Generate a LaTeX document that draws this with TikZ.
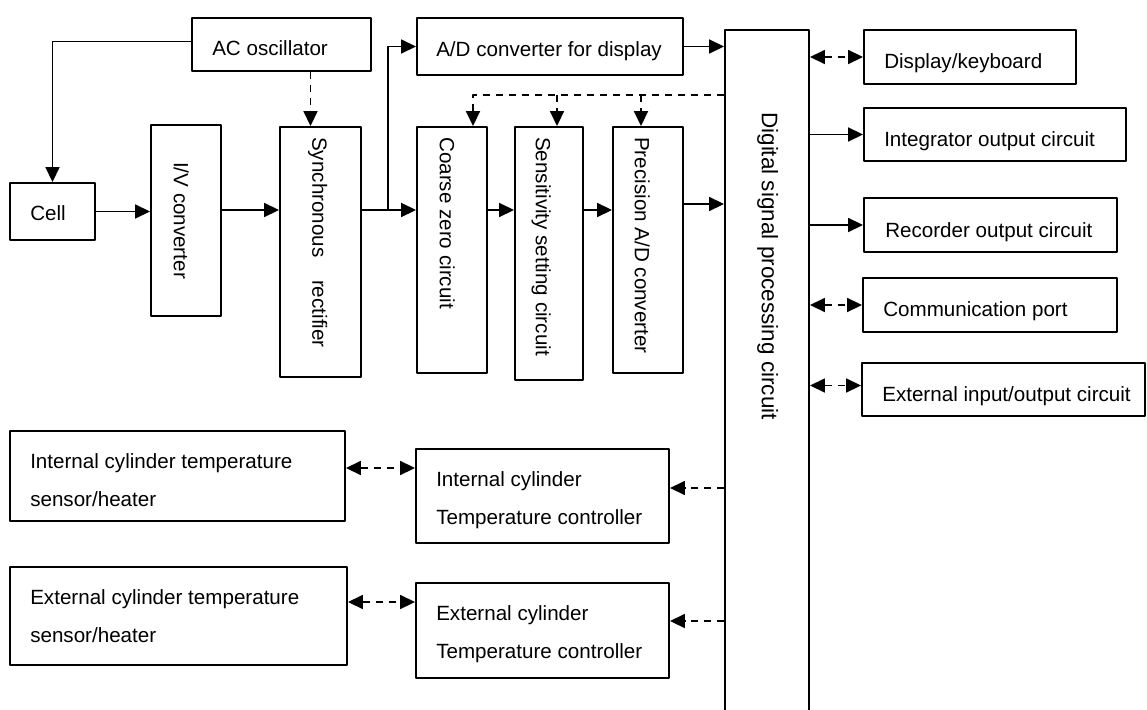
\documentclass[tikz,border=0pt]{standalone}
\usepackage{fontspec}
\setmainfont{Liberation Sans}
\usetikzlibrary{arrows.meta,calc,positioning}

\begin{document}
\begin{tikzpicture}[x=1pt,y=-1pt,join=round]
		\tikzstyle{blk}=[draw, line width=1.9pt, inner sep=0pt]
		\tikzstyle{txt}=[inner sep=0pt, font=\fontsize{20.6}{24}\selectfont]
		\tikzstyle{two}=[inner sep=0pt, align=left, font=\fontsize{20.6}{38}\selectfont]
		\tikzstyle{vtxt}=[inner sep=0pt, rotate=-90, text height=14.5pt, text depth=4pt, font=\fontsize{20.6}{24}\selectfont]
		\tikzstyle{arr}=[line width=1.7pt, >={Triangle[length=15pt,width=14pt]}, ->]
		\tikzstyle{darr}=[arr, dash pattern=on 7pt off 6pt]
		\tikzstyle{dbl}=[darr, <->]
		
		\useasboundingbox (0,0) rectangle (1147,709);
		\fill[white] (0,0) rectangle (1147,709);
		\clip (0,0) rectangle (1147,709);
		
		% signal chain
		\node[blk, minimum width=179pt, minimum height=53pt] (osc) at (281.5,44.5) {};
		\node[blk, minimum width=85pt, minimum height=57pt] (cell) at (52.5,211.5) {};
		\node[blk, minimum width=70pt, minimum height=191pt] (iv) at (186,220.5) {};
		\node[blk, minimum width=81pt, minimum height=250pt] (sync) at (320.5,252) {};
		\node[blk, minimum width=266pt, minimum height=57pt] (adc) at (550,46.5) {};
		\node[blk, minimum width=70pt, minimum height=246pt] (cz) at (452,250) {};
		\node[blk, minimum width=68pt, minimum height=253pt] (sens) at (549,253.5) {};
		\node[blk, minimum width=70pt, minimum height=246pt] (prec) at (648,250) {};
		\node[blk, minimum width=84pt, minimum height=700pt] (dsp) at (767,380) {};
		
		% peripherals
		\node[blk, minimum width=212pt, minimum height=54pt] (disp) at (970,57) {};
		\node[blk, minimum width=262pt, minimum height=53pt] (integ) at (995,134.5) {};
		\node[blk, minimum width=253pt, minimum height=54pt] (rec) at (990.5,225) {};
		\node[blk, minimum width=254pt, minimum height=54pt] (comm) at (990,305) {};
		\node[blk, minimum width=283pt, minimum height=53pt] (extio) at (1003.5,389.5) {};
		
		% temperature control
		\node[blk, minimum width=335pt, minimum height=90pt] (isens) at (177.5,476) {};
		\node[blk, minimum width=337pt, minimum height=98pt] (esens) at (178.5,616) {};
		\node[blk, minimum width=253pt, minimum height=94pt] (ictl) at (542.5,496) {};
		\node[blk, minimum width=253pt, minimum height=95pt] (ectl) at (542.5,630.5) {};
		
		% labels
		\node[txt, anchor=base west] (osc-t) at ([shift={(21,11)}]osc.west) {AC oscillator};
		\node[txt, anchor=base west] (cell-t) at ([shift={(21,9)}]cell.west) {Cell};
		\node[txt, anchor=base west] (adc-t) at ([shift={(20,10)}]adc.west) {A/D converter for display};
		\node[txt, anchor=base west] (disp-t) at ([shift={(21,11)}]disp.west) {Display/keyboard};
		\node[txt, anchor=base west] (integ-t) at ([shift={(21,12)}]integ.west) {Integrator output circuit};
		\node[txt, anchor=base west] (rec-t) at ([shift={(22,12)}]rec.west) {Recorder output circuit};
		\node[txt, anchor=base west] (comm-t) at ([shift={(21,11)}]comm.west) {Communication port};
		\node[txt, anchor=base west] (extio-t) at ([shift={(21,11.5)}]extio.west) {External input/output circuit};
		
		\node[vtxt] (iv-t) at ([xshift=-7pt]iv.center) {I/V converter};
		\node[vtxt, anchor=west] (sync-t) at ([shift={(-3,11)}]sync.north) {Synchronous\hspace{1.1em}rectifier};
		\node[vtxt, anchor=west] (cz-t) at ([shift={(-7,11)}]cz.north) {Coarse zero circuit};
		\node[vtxt, anchor=west] (sens-t) at ([shift={(-8,11)}]sens.north) {Sensitivity setting circuit};
		\node[vtxt, anchor=west] (prec-t) at ([shift={(-8,11)}]prec.north) {Precision A/D converter};
		\node[vtxt, anchor=west, font=\fontsize{22.5}{26}\selectfont] (dsp-t) at ([shift={(0,83)}]dsp.north) {Digital signal processing circuit};
		
		\node[two, anchor=north west] (isens-t) at ([shift={(21,23)}]isens.north west) {Internal cylinder temperature\\sensor/heater};
		\node[two, anchor=north west] (esens-t) at ([shift={(21,23)}]esens.north west) {External cylinder temperature\\sensor/heater};
		\node[two, anchor=north west] (ictl-t) at ([shift={(21,23)}]ictl.north west) {Internal cylinder\\Temperature controller};
		\node[two, anchor=north west] (ectl-t) at ([shift={(21,23)}]ectl.north west) {External cylinder\\Temperature controller};
		
		% connectors
		\coordinate (sig) at (0,210);
		\coordinate (sig2) at (0,204);
		\coordinate (split) at (388,210);
		\coordinate (bus) at (0,95);
		
		\draw[arr] ([yshift=3pt]osc.west) -| (cell.north);
		\draw[arr] (cell.east) -- (cell.east -| iv.west);
		\draw[arr] (iv.east |- sig) -- (sync.west |- sig);
		\draw[arr] (sync.east |- sig) -- (cz.west |- sig);
		\draw[arr] (split) |- (adc.west);
		\draw[arr] (cz.east |- sig) -- (sens.west |- sig);
		\draw[arr] (sens.east |- sig) -- (prec.west |- sig);
		\draw[arr] (prec.east |- sig2) -- (dsp.west |- sig2);
		\draw[arr] (adc.east) -- (adc.east -| dsp.west);
		
		\draw[darr] ([xshift=-10pt]sync.north |- osc.south) -- ([xshift=-10pt]sync.north);
		\draw[darr] (dsp.west |- bus) -| ([xshift=21pt]cz.north);
		\draw[darr] ([xshift=8pt]sens.north |- bus) -- ([xshift=8pt]sens.north);
		\draw[darr] ([xshift=-7pt]prec.north |- bus) -- ([xshift=-7pt]prec.north);
		
		\coordinate (io) at ([yshift=4pt]extio.west);
		\draw[dbl] (dsp.east |- disp.west) -- (disp.west);
		\draw[arr] (dsp.east |- integ.west) -- (integ.west);
		\draw[arr] (dsp.east |- rec.west) -- (rec.west);
		\draw[dbl] (dsp.east |- comm.west) -- (comm.west);
		\draw[dbl] (dsp.east |- io) -- (io);
		
		\coordinate (isens-a) at ([yshift=8pt]isens.east);
		\coordinate (esens-a) at ([yshift=14pt]esens.east);
		\coordinate (ictl-a) at ([yshift=8pt]ictl.east);
		\coordinate (ectl-a) at ([yshift=9.5pt]ectl.east);
		\draw[dbl] (isens-a) -- (isens-a -| ictl.west);
		\draw[dbl] (esens-a) -- (esens-a -| ectl.west);
		\draw[darr] (ictl-a -| dsp.west) -- (ictl-a);
		\draw[darr] (ectl-a -| dsp.west) -- (ectl-a);
	\end{tikzpicture}
\end{document}
